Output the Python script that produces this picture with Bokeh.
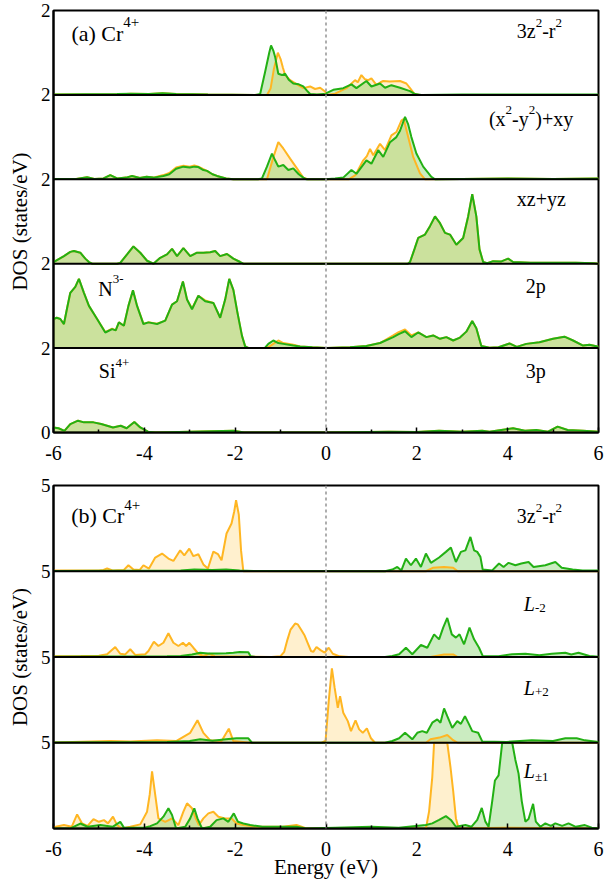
from bokeh.plotting import figure
from bokeh.models import Span, Label, FixedTicker, Range1d
from bokeh.layouts import column
from bokeh.embed import file_html
from bokeh.resources import INLINE

# ---------------- data ----------------
energy_ticks = [-6, -4, -2, 0, 2, 4, 6]
energy_tick_labels = ["-6", "-4", "-2", "0", "2", "4", "6"]
energy_minor = [-5, -3, -1, 1, 3, 5]

# panel (a): Cr4+ 3z2-r2
a1_up_e = [-6.0, -4.6, -4.3, -3.9, -3.6, -3.3, -2.6, -1.5, -1.3, -1.22, -1.15, -1.06, -1.0, -0.95, -0.9, -0.79, -0.64, -0.5, -0.35, -0.24, -0.13, -0.02, 0.02, 0.2, 0.45, 0.64, 0.7, 0.78, 0.86, 0.93, 1.0, 1.11, 1.2, 1.26, 1.4, 1.63, 1.77, 1.85, 1.95, 2.05, 6.0]
a1_up_d = [0.01, 0.01, 0.03, 0.02, 0.04, 0.02, 0.01, 0.0, 0.0, 0.15, 0.6, 1.0, 0.85, 0.65, 0.47, 0.35, 0.25, 0.16, 0.2, 0.14, 0.17, 0.08, 0.0, 0.03, 0.16, 0.35, 0.3, 0.47, 0.37, 0.35, 0.39, 0.24, 0.3, 0.33, 0.32, 0.33, 0.27, 0.16, 0.02, 0.0, 0.0]
a1_dn_e = [-6.0, -4.6, -4.3, -3.9, -3.6, -3.3, -2.6, -1.55, -1.45, -1.34, -1.25, -1.21, -1.16, -1.12, -1.05, -0.97, -0.9, -0.82, -0.72, -0.6, -0.5, -0.42, -0.35, -0.2, -0.05, 0.0, 0.01, 0.16, 0.38, 0.56, 0.67, 0.89, 1.0, 1.19, 1.3, 1.44, 1.63, 1.85, 1.96, 2.1, 3.0, 4.5, 6.0]
a1_dn_d = [0.01, 0.02, 0.03, 0.02, 0.04, 0.02, 0.01, 0.0, 0.02, 0.55, 1.0, 1.17, 1.05, 0.9, 0.5, 0.47, 0.5, 0.36, 0.27, 0.25, 0.2, 0.1, 0.02, 0.01, 0.02, 0.0, 0.04, 0.12, 0.16, 0.25, 0.16, 0.33, 0.2, 0.27, 0.17, 0.23, 0.17, 0.09, 0.02, 0.0, 0.01, 0.01, 0.01]

# panel (a): Cr4+ (x2-y2)+xy
a2_up_e = [-6.0, -5.5, -5.26, -5.1, -4.9, -4.75, -4.6, -4.4, -4.27, -4.1, -3.95, -3.8, -3.58, -3.45, -3.3, -3.14, -3.0, -2.9, -2.81, -2.7, -2.62, -2.5, -2.4, -2.2, -2.04, -1.4, -1.3, -1.16, -1.05, -0.94, -0.79, -0.64, -0.5, -0.4, 0.5, 0.65, 0.82, 0.9, 0.97, 1.04, 1.19, 1.3, 1.44, 1.55, 1.66, 1.71, 1.81, 1.92, 2.07, 2.18, 3.0, 4.0, 5.0, 6.0]
a2_up_d = [0.01, 0.01, 0.05, 0.01, 0.02, 0.1, 0.02, 0.04, 0.08, 0.03, 0.06, 0.04, 0.1, 0.15, 0.28, 0.32, 0.3, 0.33, 0.3, 0.24, 0.2, 0.12, 0.08, 0.02, 0.0, 0.0, 0.0, 0.52, 0.88, 0.73, 0.49, 0.26, 0.04, 0.0, 0.0, 0.1, 0.45, 0.55, 0.72, 0.57, 0.84, 0.69, 1.04, 1.12, 1.39, 1.43, 1.0, 0.53, 0.14, 0.0, 0.01, 0.02, 0.01, 0.02]
a2_dn_e = [-6.0, -5.5, -5.26, -5.1, -4.9, -4.75, -4.6, -4.4, -4.27, -4.1, -3.95, -3.8, -3.58, -3.45, -3.3, -3.14, -3.0, -2.9, -2.81, -2.7, -2.62, -2.5, -2.4, -2.2, -2.04, -1.5, -1.41, -1.3, -1.19, -1.12, -1.05, -0.94, -0.83, -0.72, -0.6, -0.5, -0.43, 0.0, 0.2, 0.38, 0.56, 0.67, 0.89, 1.0, 1.15, 1.26, 1.41, 1.55, 1.63, 1.74, 1.81, 1.88, 1.99, 2.14, 2.32, 2.4, 3.0, 4.0, 5.0, 6.0]
a2_dn_d = [0.01, 0.01, 0.05, 0.01, 0.02, 0.1, 0.02, 0.04, 0.08, 0.03, 0.06, 0.04, 0.08, 0.12, 0.25, 0.3, 0.28, 0.3, 0.29, 0.22, 0.2, 0.12, 0.08, 0.02, 0.0, 0.0, 0.02, 0.3, 0.61, 0.45, 0.3, 0.34, 0.22, 0.26, 0.12, 0.04, 0.0, 0.0, 0.02, 0.04, 0.22, 0.13, 0.45, 0.37, 0.69, 0.53, 0.88, 1.0, 1.15, 1.48, 1.3, 1.0, 0.61, 0.3, 0.06, 0.0, 0.01, 0.02, 0.01, 0.02]

# panel (a): Cr4+ xz+yz (both spins coincide in the picture)
a3_dn_e = [-6.0, -5.77, -5.63, -5.55, -5.41, -5.3, -5.22, -5.15, -4.6, -4.53, -4.38, -4.24, -4.09, -3.94, -3.8, -3.65, -3.5, -3.39, -3.28, -3.14, -2.99, -2.84, -2.7, -2.55, -2.44, -2.33, -2.18, -2.04, -1.89, -1.82, 1.8, 1.85, 1.95, 2.03, 2.18, 2.29, 2.4, 2.51, 2.62, 2.73, 2.87, 3.02, 3.13, 3.22, 3.31, 3.38, 3.46, 3.55, 3.68, 3.85, 4.01, 4.12, 4.5, 5.0, 5.5, 5.9, 6.0]
a3_dn_d = [0.04, 0.18, 0.28, 0.3, 0.26, 0.12, 0.04, 0.0, 0.0, 0.02, 0.22, 0.41, 0.26, 0.07, 0.0, 0.14, 0.22, 0.35, 0.18, 0.37, 0.18, 0.26, 0.26, 0.27, 0.3, 0.18, 0.23, 0.12, 0.04, 0.0, 0.0, 0.04, 0.35, 0.61, 0.69, 0.89, 1.12, 0.96, 0.73, 0.69, 0.45, 0.61, 1.12, 1.65, 1.12, 0.34, 0.04, 0.01, 0.06, 0.05, 0.12, 0.04, 0.02, 0.02, 0.02, 0.01, 0.0]
a3_up_e = list(a3_dn_e)
a3_up_d = list(a3_dn_d)

# panel (a): N3- 2p
a4_dn_e = [-6.0, -5.93, -5.85, -5.77, -5.7, -5.63, -5.52, -5.44, -5.33, -5.22, -5.04, -4.86, -4.71, -4.63, -4.56, -4.45, -4.35, -4.25, -4.16, -4.02, -3.91, -3.72, -3.54, -3.39, -3.28, -3.15, -3.06, -2.95, -2.81, -2.66, -2.48, -2.33, -2.22, -2.13, -2.04, -1.95, -1.85, -1.78, -1.7, -1.35, -1.27, -1.16, -1.05, -0.94, -0.72, -0.57, -0.3, 0.01, 0.53, 0.89, 1.19, 1.48, 1.6, 1.74, 1.88, 2.03, 2.21, 2.36, 2.51, 2.65, 2.8, 2.95, 3.09, 3.22, 3.31, 3.42, 3.6, 3.8, 4.04, 4.2, 4.41, 4.7, 5.0, 5.25, 5.44, 5.66, 5.8, 6.0]
a4_dn_d = [0.69, 0.72, 0.69, 0.57, 0.95, 1.31, 1.45, 1.64, 1.31, 1.0, 0.69, 0.37, 0.45, 0.42, 0.61, 0.53, 1.0, 1.37, 1.0, 0.57, 0.61, 0.57, 0.65, 1.03, 1.11, 1.58, 1.15, 0.92, 1.24, 1.11, 1.07, 0.72, 1.15, 1.64, 1.38, 0.84, 0.29, 0.04, 0.0, 0.0, 0.1, 0.18, 0.12, 0.1, 0.06, 0.04, 0.02, 0.0, 0.02, 0.05, 0.12, 0.26, 0.33, 0.4, 0.26, 0.37, 0.26, 0.3, 0.22, 0.26, 0.18, 0.25, 0.39, 0.64, 0.47, 0.05, 0.01, 0.02, 0.11, 0.03, 0.1, 0.14, 0.22, 0.27, 0.18, 0.06, 0.08, 0.03]
a4_up_e = list(a4_dn_e)
a4_up_d = [0.69, 0.72, 0.69, 0.57, 0.95, 1.31, 1.45, 1.64, 1.31, 1.0, 0.69, 0.38, 0.46, 0.42, 0.61, 0.53, 1.0, 1.37, 1.0, 0.58, 0.61, 0.58, 0.65, 1.03, 1.11, 1.58, 1.15, 0.94, 1.24, 1.13, 1.07, 0.72, 1.15, 1.64, 1.38, 0.84, 0.29, 0.04, 0.0, 0.0, 0.02, 0.1, 0.18, 0.12, 0.08, 0.04, 0.02, 0.0, 0.02, 0.05, 0.12, 0.3, 0.38, 0.44, 0.3, 0.37, 0.26, 0.3, 0.22, 0.26, 0.18, 0.25, 0.39, 0.64, 0.47, 0.05, 0.01, 0.02, 0.11, 0.03, 0.1, 0.14, 0.22, 0.27, 0.18, 0.06, 0.08, 0.03]

# panel (a): Si4+ 3p
a5_dn_e = [-6.0, -5.89, -5.76, -5.63, -5.46, -5.33, -5.12, -4.95, -4.69, -4.52, -4.39, -4.22, -4.09, -3.92, -3.75, -3.0, -2.04, -1.8, 0.0, 1.38, 2.0, 2.49, 3.0, 3.44, 3.6, 3.86, 4.12, 4.38, 4.63, 4.89, 5.1, 5.32, 5.66, 6.0]
a5_dn_d = [0.12, 0.1, 0.04, 0.2, 0.28, 0.24, 0.24, 0.2, 0.12, 0.16, 0.1, 0.25, 0.12, 0.02, 0.0, 0.02, 0.04, 0.0, 0.0, 0.02, 0.01, 0.04, 0.02, 0.04, 0.02, 0.06, 0.1, 0.04, 0.06, 0.02, 0.14, 0.06, 0.04, 0.02]
a5_up_e = list(a5_dn_e)
a5_up_d = list(a5_dn_d)

# panel (b): Cr4+ 3z2-r2
b1_up_e = [-6.0, -5.0, -4.9, -4.82, -4.7, -4.45, -4.35, -4.24, -4.1, -4.02, -3.9, -3.76, -3.61, -3.47, -3.36, -3.21, -3.12, -3.01, -2.92, -2.81, -2.7, -2.6, -2.48, -2.38, -2.3, -2.19, -2.08, -2.02, -1.98, -1.92, -1.87, -1.82, 2.2, 2.35, 2.6, 2.8, 2.9, 6.0]
b1_up_d = [0.05, 0.05, 0.08, 0.16, 0.05, 0.08, 0.35, 0.1, 0.08, 0.35, 0.15, 0.8, 1.03, 0.74, 0.6, 1.22, 0.93, 1.32, 0.88, 0.99, 0.4, 0.16, 1.15, 1.0, 0.64, 2.2, 2.78, 3.5, 4.14, 3.3, 1.2, 0.0, 0.0, 0.2, 0.25, 0.2, 0.0, 0.0]
b1_dn_e = [-6.0, -3.2, -2.9, -2.5, -2.2, -1.9, -1.6, 1.3, 1.46, 1.57, 1.66, 1.76, 1.87, 1.98, 2.09, 2.2, 2.31, 2.49, 2.64, 2.75, 2.86, 2.97, 3.07, 3.18, 3.26, 3.33, 3.4, 3.45, 3.66, 3.81, 3.91, 4.02, 4.17, 4.3, 4.46, 4.57, 4.83, 5.05, 5.19, 5.43, 5.65, 6.0]
b1_dn_d = [0.02, 0.05, 0.1, 0.08, 0.1, 0.05, 0.02, 0.0, 0.1, 0.25, 0.05, 0.74, 0.35, 0.74, 0.25, 1.03, 0.49, 0.8, 1.13, 1.38, 0.54, 1.13, 1.22, 2.0, 1.22, 1.13, 0.84, 0.1, 0.05, 0.45, 0.25, 0.49, 0.35, 0.45, 0.54, 0.25, 0.35, 0.54, 0.2, 0.1, 0.05, 0.05]

# panel (b): L-2
b2_up_e = [-6.0, -5.4, -5.0, -4.82, -4.64, -4.53, -4.42, -4.31, -4.2, -3.98, -3.91, -3.79, -3.69, -3.58, -3.47, -3.36, -3.25, -3.15, -3.08, -3.01, -2.92, -2.81, -2.7, -2.57, -2.45, -1.2, -1.0, -0.92, -0.85, -0.78, -0.68, -0.62, -0.55, -0.47, -0.4, -0.33, -0.28, -0.21, -0.12, -0.03, 0.06, 0.15, 0.3, 0.5, 2.3, 2.6, 2.8, 2.9, 6.0]
b2_up_d = [0.05, 0.06, 0.08, 0.16, 0.58, 0.19, 0.15, 0.45, 0.12, 0.16, 0.35, 0.89, 0.64, 0.83, 1.38, 0.83, 0.64, 0.83, 0.64, 0.83, 0.54, 0.19, 0.06, 0.19, 0.05, 0.0, 0.05, 0.3, 1.0, 1.6, 1.95, 1.9, 1.6, 1.25, 0.8, 0.35, 0.3, 0.58, 0.4, 0.25, 0.54, 0.19, 0.04, 0.0, 0.0, 0.15, 0.15, 0.0, 0.0]
b2_dn_e = [-6.0, -3.5, -3.2, -2.95, -2.77, -2.6, -2.4, -2.2, -2.04, -1.9, -1.71, -1.66, -1.55, 1.3, 1.46, 1.61, 1.76, 1.9, 2.09, 2.23, 2.38, 2.49, 2.58, 2.67, 2.77, 2.86, 2.94, 3.04, 3.16, 3.26, 3.37, 3.45, 3.8, 4.1, 4.39, 4.7, 4.97, 5.27, 5.4, 5.56, 5.8, 6.0]
b2_dn_d = [0.02, 0.04, 0.06, 0.15, 0.25, 0.2, 0.2, 0.22, 0.25, 0.29, 0.27, 0.04, 0.0, 0.0, 0.06, 0.16, 0.54, 0.16, 0.7, 0.54, 1.32, 1.03, 1.71, 2.28, 1.32, 1.13, 1.32, 0.74, 1.71, 1.03, 0.54, 0.06, 0.05, 0.16, 0.19, 0.1, 0.19, 0.25, 0.15, 0.25, 0.06, 0.02]

# panel (b): L+2
b3_up_e = [-6.0, -4.75, -4.3, -3.72, -3.3, -2.99, -2.83, -2.7, -2.55, -2.3, -2.14, -2.04, -1.67, -0.1, -0.01, 0.06, 0.13, 0.19, 0.26, 0.31, 0.38, 0.48, 0.55, 0.65, 0.73, 0.81, 0.9, 0.99, 1.08, 2.2, 2.3, 2.5, 2.67, 2.8, 2.9, 6.0]
b3_up_d = [0.02, 0.1, 0.08, 0.14, 0.1, 0.58, 1.31, 0.58, 0.14, 0.1, 0.82, 0.1, 0.0, 0.0, 0.1, 2.43, 4.34, 3.21, 2.04, 2.72, 1.75, 1.26, 0.68, 1.3, 0.78, 0.58, 0.84, 0.26, 0.0, 0.0, 0.2, 0.3, 0.45, 0.15, 0.0, 0.0]
b3_dn_e = [-6.0, -3.5, -3.0, -2.77, -2.5, -2.2, -1.97, -1.71, -1.63, 1.3, 1.46, 1.61, 1.74, 1.9, 2.01, 2.12, 2.22, 2.34, 2.45, 2.52, 2.6, 2.67, 2.78, 2.89, 2.97, 3.06, 3.15, 3.22, 3.35, 3.44, 3.98, 4.53, 5.0, 5.27, 5.52, 5.7, 6.0]
b3_dn_d = [0.02, 0.04, 0.1, 0.2, 0.12, 0.2, 0.26, 0.26, 0.0, 0.0, 0.1, 0.26, 0.58, 0.2, 0.58, 0.68, 0.58, 1.17, 1.36, 1.17, 2.0, 1.55, 0.87, 1.26, 1.1, 1.55, 1.07, 0.68, 0.58, 0.08, 0.05, 0.14, 0.1, 0.26, 0.26, 0.14, 0.05]

# panel (b): L+-1 (peaks run off the top of the box, read as 5)
b4_up_e = [-6.0, -5.95, -5.77, -5.6, -5.48, -5.37, -5.25, -5.12, -5.0, -4.89, -4.8, -4.69, -4.6, -4.5, -4.31, -4.09, -3.94, -3.88, -3.83, -3.76, -3.69, -3.54, -3.39, -3.25, -3.14, -3.06, -2.95, -2.87, -2.8, -2.7, -2.59, -2.48, -2.37, -2.22, -2.08, -1.97, -1.82, -1.53, -0.95, -0.65, -0.43, 2.2, 2.27, 2.34, 2.38, 2.67, 2.74, 2.8, 2.86, 2.92, 3.95, 6.0]
b4_up_d = [0.05, 0.1, 0.2, 0.1, 0.82, 0.29, 0.15, 0.55, 0.39, 0.49, 0.3, 0.69, 0.2, 0.0, 0.1, 0.24, 0.98, 2.0, 3.33, 1.96, 0.59, 0.39, 0.59, 0.2, 0.98, 1.47, 1.18, 0.6, 0.2, 0.59, 0.88, 0.98, 0.69, 0.59, 0.59, 0.29, 0.2, 0.1, 0.1, 0.2, 0.0, 0.0, 1.0, 3.0, 5.0, 5.0, 3.6, 2.2, 0.6, 0.0, 0.05, 0.0]
b4_dn_e = [-6.0, -5.63, -5.41, -5.25, -4.97, -4.7, -4.53, -4.45, -4.0, -3.87, -3.72, -3.58, -3.47, -3.39, -3.3, -3.1, -2.99, -2.9, -2.83, -2.73, -2.55, -2.41, -2.26, -2.15, -2.03, -1.94, -1.82, -1.67, -1.4, -0.65, -0.43, 0.2, 1.0, 1.6, 2.2, 2.34, 2.49, 2.64, 2.75, 2.86, 3.07, 3.2, 3.33, 3.43, 3.51, 3.58, 3.66, 3.72, 3.8, 3.88, 4.1, 4.17, 4.24, 4.31, 4.39, 4.46, 4.56, 4.62, 4.72, 4.83, 4.95, 5.05, 5.2, 5.34, 5.5, 5.7, 5.85, 6.0]
b4_dn_d = [0.0, 0.0, 0.29, 0.1, 0.2, 0.1, 0.39, 0.05, 0.05, 0.14, 0.3, 0.69, 1.18, 0.79, 0.0, 0.1, 0.59, 1.18, 0.59, 0.0, 0.1, 0.49, 0.59, 0.39, 0.88, 0.39, 0.29, 0.2, 0.1, 0.1, 0.0, 0.05, 0.1, 0.05, 0.2, 0.3, 0.5, 0.72, 0.5, 0.1, 0.2, 0.1, 0.5, 1.2, 0.4, 0.1, 1.6, 2.8, 3.1, 5.0, 5.0, 4.0, 3.2, 1.6, 0.4, 0.55, 1.44, 0.4, 0.1, 0.3, 0.15, 0.3, 0.15, 0.3, 0.1, 0.2, 0.05, 0.0]

a_ticks = [0, 2, 4, 6, 8, 10]
a_tick_labels = ["0", "2", "2", "2", "2", "2"]
b_ticks = [5, 10, 15, 20]
b_tick_labels = ["5", "5", "5", "5"]

# ---------------- style ----------------
FONT = "Liberation Serif"
GREEN = "#22B014"
GREEN_FILL = "#44BB22"
YELLOW = "#FFB622"
YELLOW_FILL = "#FFC23A"

CW = {"(": 333, ")": 333, "a": 444, "b": 500, " ": 250, "C": 667, "r": 333, "3": 500,
      "z": 444, "-": 333, "x": 500, "y": 500, "+": 564, "2": 500, "N": 722, "S": 556,
      "i": 278, "p": 500, "4": 500, "1": 500, "\u00b1": 549, "L": 556}

FIG_W = 604
LEFT = 53
RIGHT = 6
FRAME_W = FIG_W - LEFT - RIGHT
REF_PX = 547.0 / 12.0  # px per eV in the reference


def text_px(s, size):
    return sum(CW.get(c, 500) for c in s) * size / 1000.0


def rich(p, x_ref, base_ref, pieces, bottom_ref, py):
    px = FRAME_W / 12.0
    cx = (x_ref - 53.0) / REF_PX - 6.0
    y0 = (bottom_ref - base_ref) / py
    for piece in pieces:
        t, size, dy = piece[0], piece[1], piece[2]
        italic = len(piece) > 3 and piece[3]
        p.add_layout(Label(x=cx, y=y0 + dy / py, text=t, text_font=FONT,
                           text_font_size=f"{size}px", text_baseline="alphabetic",
                           text_align="left", text_color="black",
                           text_font_style="italic" if italic else "normal"))
        cx += text_px(t, size) / px


def make_panel(series, unit, top, frame_h, bottom, ticks, tick_labels,
               labels, bottom_ref, xlabel):
    n = len(series)
    p = figure(width=FIG_W, height=top + frame_h + bottom, x_range=Range1d(-6, 6),
               y_range=Range1d(0, n * unit), output_backend="svg",
               toolbar_location=None, min_border_left=LEFT, min_border_right=RIGHT,
               min_border_top=top, min_border_bottom=bottom)
    p.grid.visible = False
    p.background_fill_color = "white"
    p.border_fill_color = "white"
    p.outline_line_color = "black"
    p.outline_line_width = 2
    p.outline_line_alpha = 1.0

    p.xaxis.ticker = FixedTicker(ticks=energy_ticks, minor_ticks=energy_minor)
    p.xaxis.major_label_overrides = {v: t for v, t in zip(energy_ticks, energy_tick_labels)}
    p.xaxis.major_label_text_font = FONT
    p.xaxis.major_label_text_font_size = "20px"
    p.xaxis.major_label_text_color = "black"
    p.xaxis.major_label_standoff = 13
    p.xaxis.major_tick_in = 5
    p.xaxis.major_tick_out = 0
    p.xaxis.minor_tick_in = 3
    p.xaxis.minor_tick_out = 0
    p.xaxis.axis_line_width = 2
    p.xaxis.major_tick_line_width = 1.5
    p.xaxis.minor_tick_line_width = 1.5
    if xlabel:
        p.xaxis.axis_label = xlabel
        p.xaxis.axis_label_text_font = FONT
        p.xaxis.axis_label_text_font_size = "21px"
        p.xaxis.axis_label_text_font_style = "normal"
        p.xaxis.axis_label_text_color = "black"
        p.xaxis.axis_label_standoff = -4

    p.yaxis.ticker = FixedTicker(ticks=ticks, minor_ticks=[])
    p.yaxis.major_label_overrides = {v: t for v, t in zip(ticks, tick_labels)}
    p.yaxis.major_label_text_font = FONT
    p.yaxis.major_label_text_font_size = "19px"
    p.yaxis.major_label_text_color = "black"
    p.yaxis.major_label_standoff = 3
    p.yaxis.major_tick_in = 0
    p.yaxis.major_tick_out = 0
    p.yaxis.axis_line_width = 2
    p.yaxis.axis_label = "DOS (states/eV)"
    p.yaxis.axis_label_text_font = FONT
    p.yaxis.axis_label_text_font_size = "21px"
    p.yaxis.axis_label_text_font_style = "normal"
    p.yaxis.axis_label_text_color = "black"
    p.yaxis.axis_label_standoff = 6

    for k, (ue, ud, de, dd) in enumerate(series):
        assert len(ue) == len(ud) and len(de) == len(dd), k
        off = (n - 1 - k) * unit
        uy = [off + v for v in ud]
        dy = [off + v for v in dd]
        p.varea(x=ue, y1=[off] * len(ue), y2=uy, fill_color=YELLOW_FILL, fill_alpha=0.25)
        p.varea(x=de, y1=[off] * len(de), y2=dy, fill_color=GREEN_FILL, fill_alpha=0.28)
        p.line(ue, uy, line_color=YELLOW, line_width=2)
        p.line(de, dy, line_color=GREEN, line_width=2)

    for j in range(1, n):
        p.add_layout(Span(location=j * unit, dimension="width", line_color="black",
                          line_width=2))
    p.add_layout(Span(location=0, dimension="height", line_color="#9a9a9a",
                      line_dash="3 3", line_width=1.6))

    py = frame_h / (n * unit)
    for x_ref, base_ref, pieces in labels:
        rich(p, x_ref, base_ref, pieces, bottom_ref, py)
    return p


series_a = [(a1_up_e, a1_up_d, a1_dn_e, a1_dn_d),
            (a2_up_e, a2_up_d, a2_dn_e, a2_dn_d),
            (a3_up_e, a3_up_d, a3_dn_e, a3_dn_d),
            (a4_up_e, a4_up_d, a4_dn_e, a4_dn_d),
            (a5_up_e, a5_up_d, a5_dn_e, a5_dn_d)]
series_b = [(b1_up_e, b1_up_d, b1_dn_e, b1_dn_d),
            (b2_up_e, b2_up_d, b2_dn_e, b2_dn_d),
            (b3_up_e, b3_up_d, b3_dn_e, b3_dn_d),
            (b4_up_e, b4_up_d, b4_dn_e, b4_dn_d)]

labels_a = [
    (71, 32.7, [("(a) Cr", 22, 0), ("4+", 15, 11)]),
    (518, 30.7, [("3z", 20, 0), ("2", 13, 8), ("-r", 20, 0), ("2", 13, 8)]),
    (490, 118.3, [("(x", 20, 0), ("2", 13, 9), ("-y", 20, 0), ("2", 13, 9), (")+xy", 20, 0)]),
    (518, 198, [("xz+yz", 20, 0)]),
    (98, 288, [("N", 20, 0), ("3-", 13, 10)]),
    (527, 285, [("2p", 20, 0)]),
    (98.5, 370.7, [("Si", 20, 0), ("4+", 13, 8)]),
    (527, 370.7, [("3p", 20, 0)]),
]
labels_b = [
    (70.7, 515, [("(b) Cr", 22, 0), ("4+", 15, 11)]),
    (518, 515, [("3z", 20, 0), ("2", 13, 8), ("-r", 20, 0), ("2", 13, 8)]),
    (525, 603.3, [("L", 20, 0, True), ("-2", 13, -4)]),
    (525, 687.3, [("L", 20, 0, True), ("+2", 13, -4)]),
    (525, 770.7, [("L", 20, 0, True), ("\u00b11", 13, -5)]),
]

# panel (a): frame from y=10 to y=432 ; panel (b): frame from y=485 to y=828
pa = make_panel(series_a, 2, 10, 422, 38, a_ticks, a_tick_labels,
                labels_a, 432.0, None)
pb = make_panel(series_b, 5, 15, 343, 56, b_ticks, b_tick_labels,
                labels_b, 828.0, "Energy (eV)")

layout = column(pa, pb, spacing=0)
open("out.html", "w").write(file_html(layout, INLINE))
